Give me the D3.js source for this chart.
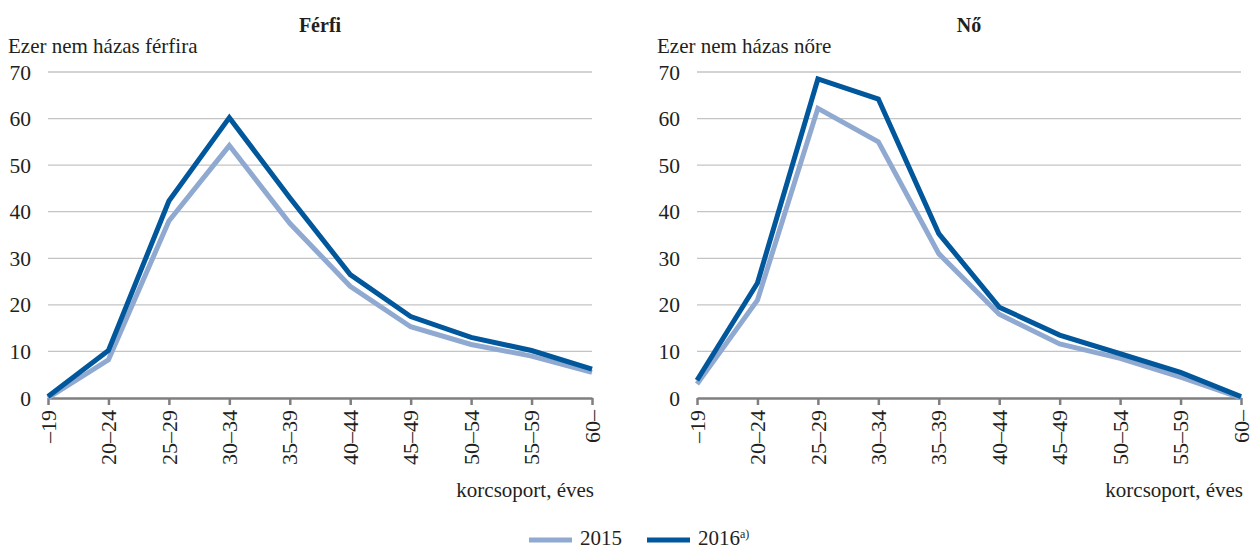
<!DOCTYPE html>
<html>
<head>
<meta charset="utf-8">
<script src="https://cdn.jsdelivr.net/npm/d3@7"></script>
<style>
  body { margin: 0; background: #fff; }
</style>
</head>
<body>
<svg id="chart" width="1259" height="551" style="font-family: 'Liberation Serif', 'DejaVu Serif', serif;"></svg>
<script>
const width = 1259;
const height = 551;

const ageGroups = ["–19", "20–24", "25–29", "30–34", "35–39", "40–44", "45–49", "50–54", "55–59", "60–"];
const yTicks = [0, 10, 20, 30, 40, 50, 60, 70];

const male2015 = [0, 8.2, 38, 54.2, 37.5, 24, 15.3, 11.5, 9, 5.5];
const male2016 = [0.3, 10.2, 42.3, 60.2, 43, 26.5, 17.5, 13, 10.2, 6.2];
const female2015 = [3, 21, 62.2, 55, 31, 18, 11.6, 8.5, 4.5, 0];
const female2016 = [3.8, 24.7, 68.5, 64.2, 35.3, 19.5, 13.5, 9.5, 5.5, 0.3];

const seriesNames = ["2015", "2016"];
const colors = ["#8fa9d1", "#00579b"];
const serif = "'Liberation Serif', 'DejaVu Serif', serif";
const textColor = "#231f20";

const panels = [
  { title: "Férfi", yLabel: "Ezer nem házas férfira", left: 48, right: 592, data: [male2015, male2016] },
  { title: "Nő", yLabel: "Ezer nem házas nőre", left: 697, right: 1241, data: [female2015, female2016] }
];

const plotTop = 72;
const plotBottom = 398;

const svg = d3.select("#chart");

let yScale = d3.scaleLinear()
  .domain([0, 70])
  .range([plotBottom, plotTop]);

function label(sel, size) {
  return sel
    .attr("font-family", serif)
    .attr("fill", textColor)
    .style("font-family", serif)
    .style("font-size", size + "px");
}

panels.forEach(p => {
  let xScale = d3.scalePoint()
    .domain(ageGroups)
    .range([p.left, p.right]);

  const g = svg.append("g");

  // grid
  g.selectAll("line.grid")
    .data(yTicks.slice(1))
    .enter()
    .append("line")
      .attr("x1", p.left)
      .attr("x2", p.right)
      .attr("y1", d => yScale(d))
      .attr("y2", d => yScale(d))
      .attr("stroke", "#c4c4c4")
      .attr("stroke-width", 1.3);

  // y labels
  g.selectAll("text.ytick")
    .data(yTicks)
    .enter()
    .append("text")
      .attr("x", p.left - 17)
      .attr("y", d => yScale(d))
      .attr("dy", "0.35em")
      .style("text-anchor", "end")
      .call(label, 21.5)
      .text(d => d);

  // x axis
  const xAxis = d3.axisBottom(xScale)
    .tickSize(7)
    .tickSizeOuter(0)
    .tickFormat("");

  const ax = g.append("g")
    .attr("transform", `translate(0, ${plotBottom})`)
    .call(xAxis);
  ax.select(".domain").attr("stroke", "#7f7f7f").attr("stroke-width", 2.5);
  ax.selectAll(".tick line").attr("stroke", "#7f7f7f").attr("stroke-width", 2.5);

  g.selectAll("text.xtick")
    .data(ageGroups)
    .enter()
    .append("text")
      .attr("transform", d => `translate(${xScale(d)}, ${plotBottom + 12}) rotate(-90)`)
      .attr("dy", "0.35em")
      .style("text-anchor", "end")
      .call(label, 22)
      .text(d => d);

  // lines
  const line = d3.line()
    .x((d, i) => xScale(ageGroups[i]))
    .y(d => yScale(d));

  p.data.forEach((series, k) => {
    g.append("path")
      .datum(series)
      .attr("d", line)
      .attr("fill", "none")
      .attr("stroke", colors[k])
      .attr("stroke-width", 5)
      .attr("stroke-linejoin", "miter");
  });

  // labels
  g.append("text")
    .attr("x", (p.left + p.right) / 2)
    .attr("y", 32)
    .style("text-anchor", "middle")
    .style("font-weight", "bold")
    .call(label, 20)
    .text(p.title);

  g.append("text")
    .attr("x", p.left - 40)
    .attr("y", 53)
    .call(label, 21)
    .text(p.yLabel);

  g.append("text")
    .attr("x", p.right + 2)
    .attr("y", 497)
    .style("text-anchor", "end")
    .call(label, 21)
    .text("korcsoport, éves");
});

// legend
const legend = svg.append("g");
const legendX = [529, 647];
seriesNames.forEach((name, k) => {
  legend.append("line")
    .attr("x1", legendX[k])
    .attr("x2", legendX[k] + 43)
    .attr("y1", 540)
    .attr("y2", 540)
    .attr("stroke", colors[k])
    .attr("stroke-width", 5);
  const t = legend.append("text")
    .attr("x", legendX[k] + 51)
    .attr("y", 545)
    .call(label, 21)
    .text(name);
  if (k === 1) {
    t.append("tspan")
      .attr("dy", -7)
      .style("font-size", "12px")
      .text("a)");
  }
});
</script>
</body>
</html>
